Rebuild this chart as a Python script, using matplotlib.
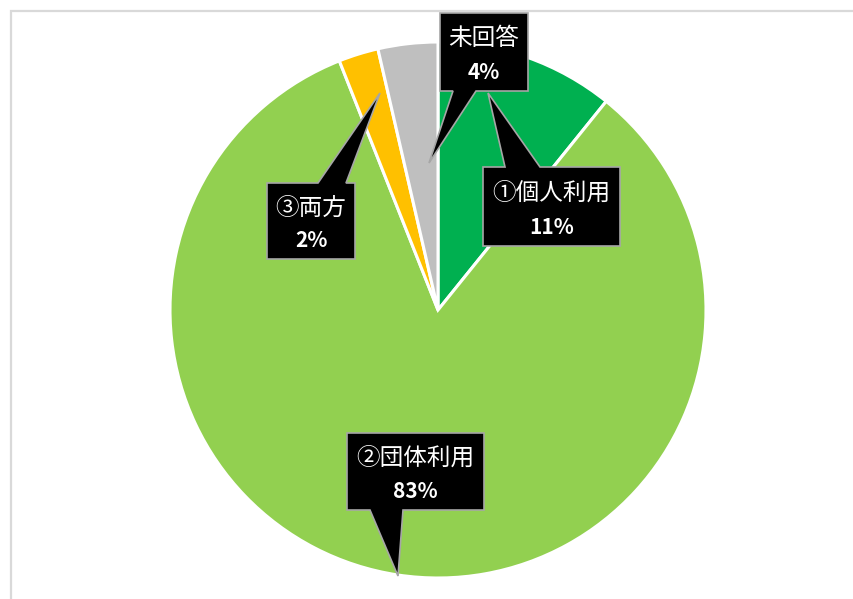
import matplotlib
matplotlib.use("Agg")
import matplotlib.pyplot as plt
from matplotlib.patches import Polygon, Rectangle

plt.rcParams['font.family'] = ['Noto Sans CJK JP', 'DejaVu Sans']

# data
labels = ["①個人利用", "②団体利用", "③両方", "未回答"]
values = [10.8, 83.2, 2.4, 3.6]
pct_text = ["11%", "83%", "2%", "4%"]
colors = ["#00B050", "#92D050", "#FFC000", "#BFBFBF"]

W, H = 854, 599
fig = plt.figure(figsize=(W / 100, H / 100), dpi=100)
ax = fig.add_axes([0, 0, 1, 1])

def Y(y):
    return H - y

# outer frame
ax.add_patch(Rectangle((11, Y(605)), 860, 594, fill=False,
                       edgecolor="#D9D9D9", linewidth=1.6, zorder=0))

ax.pie(values, colors=colors, startangle=90, counterclock=False,
       center=(438, Y(310)), radius=268, frame=True,
       wedgeprops=dict(edgecolor="white", linewidth=2.2))
ax.set_xlim(0, W)
ax.set_ylim(0, H)
ax.axis("off")

# callout layout: box (x0, y0, x1, y1), side of pointer, base (a, b), tip
callouts = {
    "①個人利用": ((483, 167, 620, 246), "top", (505, 540), (488, 93)),
    "②団体利用": ((347, 433, 484, 510), "bottom", (370, 403), (398, 576)),
    "③両方": ((267, 183, 355, 259), "top", (318, 346), (380, 93)),
    "未回答": ((440, 13, 528, 91), "bottom", (453, 476), (429, 163)),
}

for lab, pct in zip(labels, pct_text):
    (x0, y0, x1, y1), side, (a, b), (tx, ty) = callouts[lab]
    if side == "top":
        pts = [(x0, y0), (a, y0), (tx, ty), (b, y0), (x1, y0), (x1, y1), (x0, y1)]
    else:
        pts = [(x0, y0), (x1, y0), (x1, y1), (b, y1), (tx, ty), (a, y1), (x0, y1)]
    pts = [(px, Y(py)) for px, py in pts]
    ax.add_patch(Polygon(pts, closed=True, facecolor="black",
                         edgecolor="#A6A6A6", linewidth=1.2, zorder=5))
    cx = (x0 + x1) / 2
    ax.text(cx, Y(y0 + (y1 - y0) * 0.33), lab, color="white", fontsize=17,
            ha="center", va="center", zorder=6)
    ax.text(cx, Y(y0 + (y1 - y0) * 0.76), pct, color="white", fontsize=15,
            fontweight="bold", ha="center", va="center", zorder=6)

fig.savefig("out.png", dpi=100)
